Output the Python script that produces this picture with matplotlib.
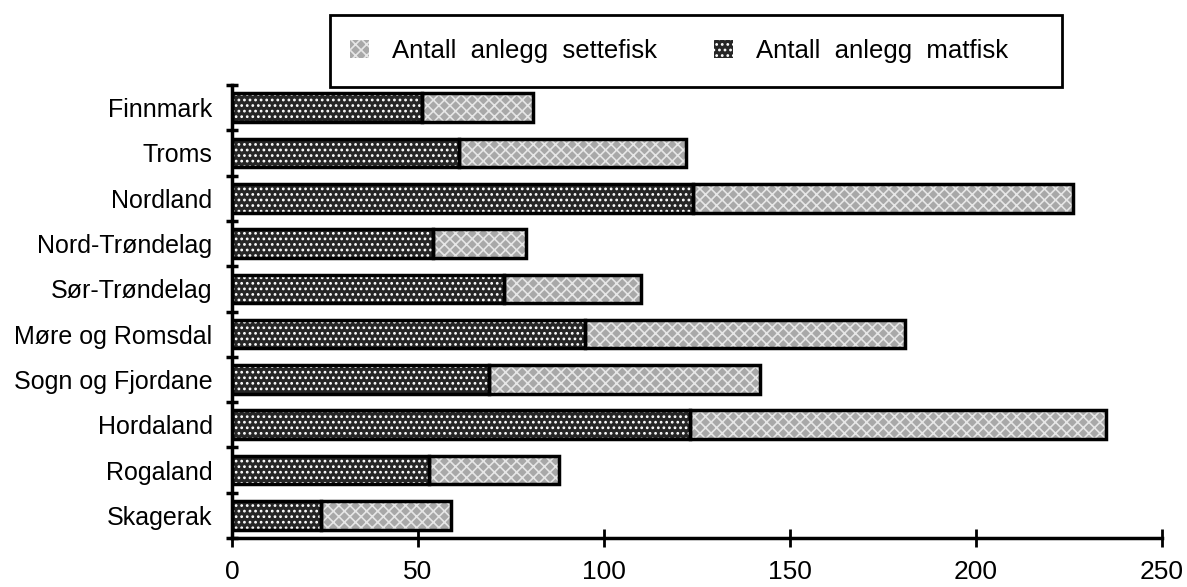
import matplotlib.pyplot as plt
from matplotlib.patches import Patch, Rectangle

plt.rcParams['font.family'] = ['Liberation Sans', 'DejaVu Sans']
plt.rcParams['hatch.linewidth'] = 1.2

# fylker, from top to bottom
fylker = ['Finnmark', 'Troms', 'Nordland', 'Nord-Trøndelag', 'Sør-Trøndelag',
          'Møre og Romsdal', 'Sogn og Fjordane', 'Hordaland', 'Rogaland', 'Skagerak']
matfisk = [51, 61, 124, 54, 73, 95, 69, 123, 53, 24]
settefisk = [30, 61, 102, 25, 37, 86, 73, 112, 35, 35]
xticks = [0, 50, 100, 150, 200, 250]
legend_labels = ['Antall  anlegg  settefisk', 'Antall  anlegg  matfisk']

dark = '#262626'
light = '#a8a8a8'

W, H = 1187, 587
fig = plt.figure(figsize=(W / 100, H / 100), dpi=100)
ax = fig.add_axes([232 / W, 1 - 538 / H, 930 / W, 453 / H])

pos = range(len(fylker))
h = 0.63

# dark part (matfisk)
ax.barh(pos, matfisk, height=h, color=dark, edgecolor='white', hatch='...', linewidth=0)
# light part (settefisk)
ax.barh(pos, settefisk, left=matfisk, height=h, color=light, edgecolor='#e6e6e6',
        hatch='xxx', linewidth=0)
# outlines
ax.barh(pos, matfisk, height=h, fill=False, edgecolor='black', linewidth=2.5)
ax.barh(pos, settefisk, left=matfisk, height=h, fill=False, edgecolor='black', linewidth=2.5)

ax.set_xlim(0, 250)
ax.set_ylim(len(fylker) - 0.5, -0.5)

ax.set_xticks(xticks)
ax.set_xticklabels([str(t) for t in xticks], fontsize=19)
ax.tick_params(axis='x', direction='inout', length=13, width=2, pad=9)

# ticks between categories, labels in the middle
ax.set_yticks([i - 0.5 for i in range(len(fylker) + 1)])
ax.set_yticklabels([])
ax.tick_params(axis='y', which='major', direction='inout', length=9, width=2.5)
ax.set_yticks(list(pos), minor=True)
ax.set_yticklabels(fylker, minor=True, fontsize=18)
ax.tick_params(axis='y', which='minor', length=0, pad=14)

for s in ['top', 'right']:
    ax.spines[s].set_visible(False)
for s in ['left', 'bottom']:
    ax.spines[s].set_linewidth(2.5)

# legend box drawn by hand, entries without frame
fig.patches.append(Rectangle((330 / W, 1 - 87 / H), 732 / W, 72 / H,
                             transform=fig.transFigure, fill=False,
                             edgecolor='black', linewidth=2))
handles = [
    Patch(facecolor=light, edgecolor='#e6e6e6', hatch='xxx', linewidth=0),
    Patch(facecolor=dark, edgecolor='white', hatch='...', linewidth=0),
]
fig.legend(handles, legend_labels, ncol=2, loc='center left',
           bbox_to_anchor=(350 / W, 1 - 51 / H), fontsize=18.5, frameon=False,
           handlelength=0.75, handleheight=0.75, handletextpad=0.9,
           columnspacing=2.2, borderpad=0, borderaxespad=0)

fig.savefig('out.png', dpi=100)
